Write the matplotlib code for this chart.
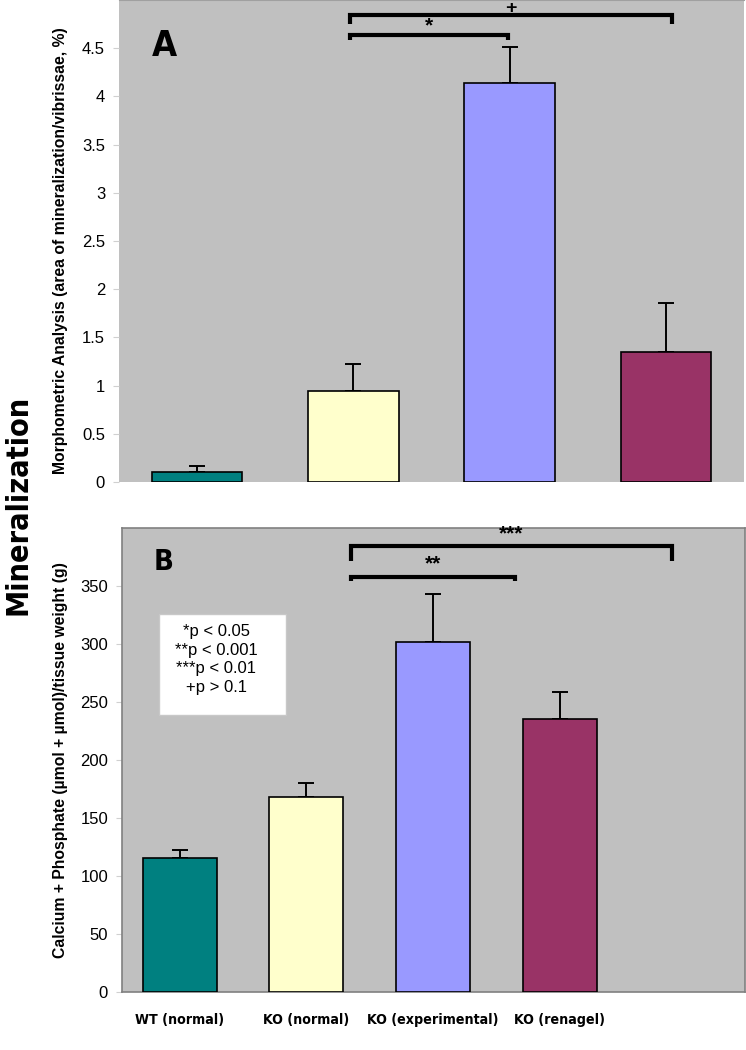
import matplotlib
matplotlib.use("Agg")
import matplotlib.pyplot as plt
from matplotlib.patches import Rectangle
import numpy as np

# --- DATA ---------------------------- #
groups = ["WT (normal)", "KO (normal)", "KO (experimental)", "KO (renagel)"]
colors = ["#008080", "#FFFFCC", "#9999FF", "#993366"]

morph_mean = [0.107, 0.944, 4.136, 1.352]
morph_err = [0.059, 0.276, 0.380, 0.505]

calph_mean = [115.2, 168.0, 302.0, 235.0]
calph_err = [7.2, 12.0, 41.0, 24.0]

legend_lines = ["*p < 0.05", "**p < 0.001", "***p < 0.01", "+p > 0.1"]
# ------------------------------------- #

plt.rcParams['font.family'] = ['Liberation Sans', 'DejaVu Sans']
narrow = ['DejaVu Sans']

fig = plt.figure(figsize=(7.46, 10.5), dpi=100)
bg = "#C0C0C0"

def bracket(ax, x0, x1, y, drop, label, ty, fs=15):
    ax.plot([x0, x0, x1, x1], [drop, y, y, drop], color="black", lw=3,
            solid_capstyle="butt", solid_joinstyle="miter", clip_on=False)
    ax.text((x0 + x1) / 2, ty, label, ha="center", va="center",
            fontsize=fs, fontweight="bold", clip_on=False)

# --- PANEL A ------------------------- #
axA = fig.add_axes([119/746, 1 - 482/1050, 625/746, 482/1050])
xA = np.arange(len(groups))
axA.set_facecolor(bg)
axA.bar(xA, morph_mean, width=0.58, color=colors, edgecolor="black", linewidth=1.2, zorder=3)
axA.errorbar(xA, morph_mean, yerr=[np.zeros(4), morph_err], fmt="none",
             ecolor="black", elinewidth=1.4, capsize=6, capthick=1.4, zorder=2)
axA.set_xlim(-0.5, 3.5)
axA.set_ylim(0, 5)
axA.set_yticks(np.arange(0, 5, 0.5))
axA.set_yticklabels(["0", "0.5", "1", "1.5", "2", "2.5", "3", "3.5", "4", "4.5"])
axA.set_xticks([])
for s in ["left", "right", "bottom"]:
    axA.spines[s].set_visible(False)
axA.spines["top"].set_color("#A0A0A0")
axA.tick_params(axis="y", length=4, color="#D0D0D0", labelsize=12, pad=6)
axA.set_ylabel("Morphometric Analysis (area of mineralization/vibrissae, %)",
               fontsize=11.3, fontweight="bold")
axA.yaxis.set_label_coords(-0.081, 0.479)
axA.text(0.0728, 0.905, "A", transform=axA.transAxes, fontsize=26, fontweight="bold",
         family=narrow, stretch="condensed", ha="center", va="center")
bracket(axA, 0.978, 3.04, 4.84, 4.75, "+", 4.915, fs=14)
bracket(axA, 0.978, 1.99, 4.64, 4.585, "*", 4.73)

# --- PANEL B ------------------------- #
axB = fig.add_axes([122/746, 1 - 992/1050, 623/746, 464/1050])
xB = np.arange(len(groups))
axB.set_facecolor(bg)
axB.bar(xB, calph_mean, width=0.585, color=colors, edgecolor="black", linewidth=1.2, zorder=3)
axB.errorbar(xB, calph_mean, yerr=[np.zeros(4), calph_err], fmt="none",
             ecolor="black", elinewidth=1.4, capsize=6, capthick=1.4, zorder=2)
axB.set_xlim(-0.458, 4.466)
axB.set_ylim(0, 400)
axB.set_yticks(np.arange(0, 400, 50))
axB.set_xticks(xB)
axB.set_xticklabels(groups, fontsize=10.2, fontweight="bold", family=narrow, stretch="condensed")
for s in axB.spines.values():
    s.set_color("#808080")
    s.set_linewidth(1.2)
axB.tick_params(axis="y", length=4, color="#D0D0D0", labelsize=12, pad=6)
axB.tick_params(axis="x", length=0, pad=15)
axB.set_ylabel("Calcium + Phosphate (\u00b5mol + \u00b5mol)/tissue weight (g)",
               fontsize=11.3, fontweight="bold")
axB.yaxis.set_label_coords(-0.087, 0.5)
axB.text(0.0666, 0.926, "B", transform=axB.transAxes, fontsize=21, fontweight="bold",
         family=narrow, stretch="condensed", ha="center", va="center")
bracket(axB, 1.352, 3.889, 384.7, 371.8, "***", 395)
bracket(axB, 1.352, 2.648, 357.4, 354.2, "**", 369)

axB.add_patch(Rectangle((0.0594, 0.597), 0.2039, 0.2177, transform=axB.transAxes,
                        facecolor="white", edgecolor="#C8C8C8", linewidth=1, zorder=4))
axB.text(0.151, 0.7166, "\n".join(legend_lines), transform=axB.transAxes,
         fontsize=12, ha="center", va="center", multialignment="center",
         linespacing=1.3, zorder=5)

fig.text(18/746, 1 - 505/1050, "Mineralization", rotation=90, fontsize=22,
         fontweight="bold", family=narrow, stretch="condensed", ha="center", va="center")

fig.savefig("out.png", dpi=100)
